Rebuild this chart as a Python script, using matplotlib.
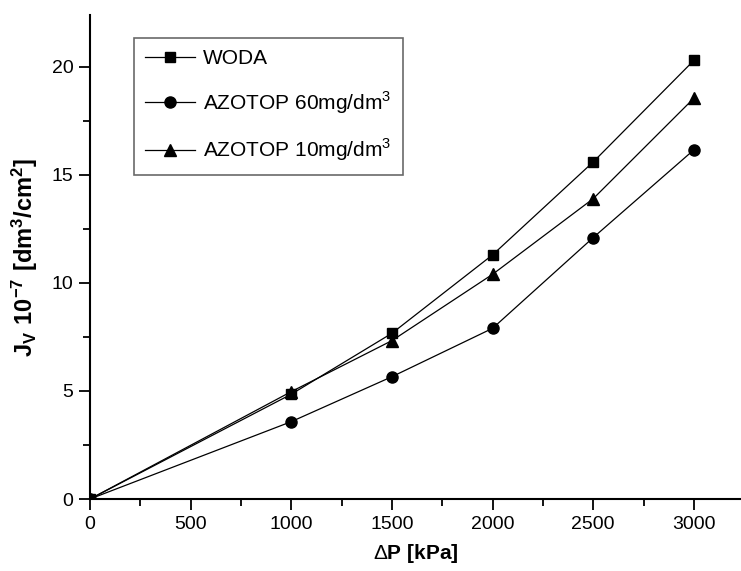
import matplotlib
matplotlib.use("Agg")
import matplotlib.pyplot as plt
from matplotlib.ticker import MultipleLocator

plt.rcParams['font.family'] = ['Liberation Sans', 'DejaVu Sans']
plt.rcParams['mathtext.fontset'] = 'custom'
plt.rcParams['mathtext.rm'] = 'Liberation Sans'
plt.rcParams['mathtext.bf'] = 'Liberation Sans:bold'

# pressure [kPa]
dp = [0, 1000, 1500, 2000, 2500, 3000]
# Jv 10^-7 [dm3/cm2]
woda = [0, 4.85, 7.67, 11.3, 15.6, 20.3]
azotop60 = [0, 3.58, 5.66, 7.9, 12.1, 16.16]
azotop10 = [0, 4.97, 7.33, 10.4, 13.9, 18.55]

labels = ["WODA", "AZOTOP 60mg/dm$^3$", "AZOTOP 10mg/dm$^3$"]

fig = plt.figure(figsize=(7.41, 5.71), dpi=100)
ax = fig.add_axes([90/741, 72/571, 651/741, 484/571])

ax.plot(dp, woda, color="black", lw=0.9, marker="s", ms=7.5, label=labels[0])
ax.plot(dp, azotop60, color="black", lw=0.9, marker="o", ms=8, label=labels[1])
ax.plot(dp, azotop10, color="black", lw=0.9, marker="^", ms=8.5, label=labels[2])

ax.set_xlim(0, 3234)
ax.set_ylim(0, 22.4)
ax.xaxis.set_major_locator(MultipleLocator(500))
ax.xaxis.set_minor_locator(MultipleLocator(250))
ax.yaxis.set_major_locator(MultipleLocator(5))
ax.yaxis.set_minor_locator(MultipleLocator(2.5))

for s in ["top", "right"]:
    ax.spines[s].set_visible(False)
for s in ["left", "bottom"]:
    ax.spines[s].set_linewidth(1.5)

ax.tick_params(which="major", direction="out", length=8, width=1.3, labelsize=14, pad=4)
ax.tick_params(which="minor", direction="out", length=5, width=1.3)

ax.set_xlabel(r"$\Delta$P [kPa]", fontsize=15, fontweight="bold", labelpad=7)
ax.set_ylabel(r"$\mathbf{J_V\ 10^{-7}\ [dm^3/cm^2]}$", fontsize=17, labelpad=8)

leg = ax.legend(loc="upper left", bbox_to_anchor=(134/741, 1 - 38/571),
                bbox_transform=fig.transFigure, fontsize=15, frameon=True,
                fancybox=False, edgecolor="#444444", handlelength=2.4,
                handletextpad=0.35, labelspacing=1.0, borderpad=0.55,
                borderaxespad=0)
leg.get_frame().set_linewidth(1.2)

fig.savefig("out.png", dpi=100)
